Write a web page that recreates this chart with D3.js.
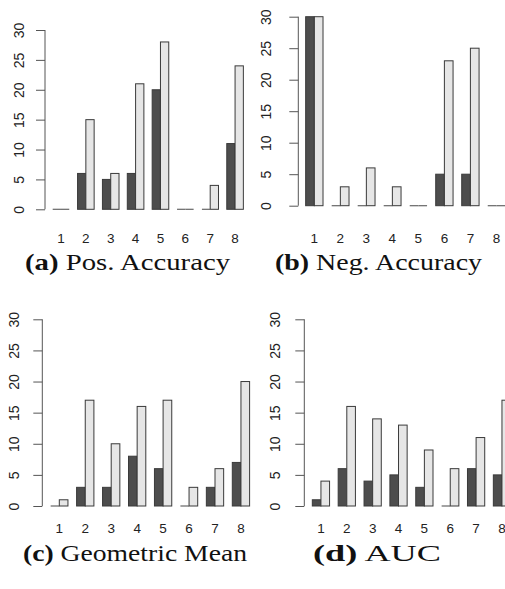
<!DOCTYPE html>
<html>
<head>
<meta charset="utf-8">
<script src="https://cdn.jsdelivr.net/npm/d3@7"></script>
<style>
  body { margin: 0; background: #fff; }
  svg { display: block; }
</style>
</head>
<body>
<div id="chart"></div>
<script>
// counts per method (1..8), dark = first series, light = second series
var methods = ["1", "2", "3", "4", "5", "6", "7", "8"];
var yTicks = [0, 5, 10, 15, 20, 25, 30];

var posAccDark  = [0, 6, 5, 6, 20, 0, 0, 11];
var posAccLight = [0, 15, 6, 21, 28, 0, 4, 24];
var negAccDark  = [30, 0, 0, 0, 0, 5, 5, 0];
var negAccLight = [30, 3, 6, 3, 0, 23, 25, 0];
var gmeanDark   = [0, 3, 3, 8, 6, 0, 3, 7];
var gmeanLight  = [1, 17, 10, 16, 17, 3, 6, 20];
var aucDark     = [1, 6, 4, 5, 3, 0, 6, 5];
var aucLight    = [4, 16, 14, 13, 9, 6, 11, 17];

var captions = [
    { tag: "(a)", text: " Pos. Accuracy" },
    { tag: "(b)", text: " Neg. Accuracy" },
    { tag: "(c)", text: " Geometric Mean" },
    { tag: "(d)", text: " AUC" }
];

// panel placement (pixels): x0 = where bar unit 0 sits, unit = px per bar width
var panels = [
    { dark: posAccDark, light: posAccLight, x0: 44.4, unit: 8.29, axisX: 45, yBottom: 209.3, yTop: 30, labOff: 26, tickY: 238, capY: 262, capX: 25, capW: 205 },
    { dark: negAccDark, light: negAccLight, x0: 297, unit: 8.67, axisX: 298.3, yBottom: 205.7, yTop: 16.7, labOff: 32.6, tickY: 238, capY: 262, capX: 275, capW: 207 },
    { dark: gmeanDark, light: gmeanLight, x0: 42, unit: 8.65, axisX: 42.3, yBottom: 506, yTop: 319.3, labOff: 28, tickY: 528, capY: 553, capX: 23, capW: 224 },
    { dark: aucDark, light: aucLight, x0: 303.7, unit: 8.62, axisX: 304.3, yBottom: 506, yTop: 319.3, labOff: 29.6, tickY: 528, capY: 553, capX: 313, capW: 128 }
];

var width = 505, height = 589;
var svg = d3.select("#chart").append("svg")
    .attr("width", width)
    .attr("height", height);

panels.forEach(function(p, k) {
    var g = svg.append("g");

    var y = d3.scaleLinear().domain([0, 30]).range([p.yBottom, p.yTop]);
    var x = d3.scaleLinear().domain([0, 1]).range([p.x0, p.x0 + p.unit]);

    // R barplot beside=TRUE layout: bar pairs separated by one bar width
    var bars = [];
    methods.forEach(function(m, i) {
        bars.push({ left: 3 * i + 1, v: p.dark[i], fill: "#4d4d4d" });
        bars.push({ left: 3 * i + 2, v: p.light[i], fill: "#e6e6e6" });
    });

    g.selectAll("rect.bar")
        .data(bars.filter(function(d) { return d.v > 0; }))
        .enter()
        .append("rect")
        .attr("class", "bar")
        .attr("x", function(d) { return x(d.left); })
        .attr("width", function(d) { return x(d.left + 1) - x(d.left); })
        .attr("y", function(d) { return y(d.v); })
        .attr("height", function(d) { return y(0) - y(d.v); })
        .style("fill", function(d) { return d.fill; })
        .style("stroke", "#3a3a3a")
        .style("stroke-width", 1);

    // empty bars still show as a flat line on the baseline
    g.selectAll("line.zero")
        .data(bars.filter(function(d) { return d.v == 0; }))
        .enter()
        .append("line")
        .attr("class", "zero")
        .attr("x1", function(d) { return x(d.left); })
        .attr("x2", function(d) { return x(d.left + 1); })
        .attr("y1", y(0))
        .attr("y2", y(0))
        .style("stroke", "#666")
        .style("stroke-width", 1.2);

    // y axis, R style with rotated labels
    var axis = d3.axisLeft(y).tickValues(yTicks).tickSize(9).tickFormat(d3.format("d"));
    var ax = g.append("g")
        .attr("transform", "translate(" + p.axisX + ",0)")
        .call(axis);
    ax.select(".domain")
        .attr("d", "M0," + y(0) + "V" + y(30))
        .style("stroke", "#555");
    ax.selectAll(".tick line").style("stroke", "#555");
    ax.selectAll(".tick text")
        .attr("x", null).attr("dy", null)
        .attr("transform", function(d) { return "translate(" + (-p.labOff) + ",0) rotate(-90)"; })
        .attr("text-anchor", "middle")
        .attr("dominant-baseline", "central")
        .style("font-family", "'Liberation Sans', Arial, sans-serif")
        .style("font-size", "14px")
        .style("fill", "#222");

    // group labels under each pair
    g.selectAll("text.xlab")
        .data(methods)
        .enter()
        .append("text")
        .attr("class", "xlab")
        .attr("x", function(d, i) { return x(3 * i + 2); })
        .attr("y", p.tickY)
        .attr("text-anchor", "middle")
        .attr("dominant-baseline", "central")
        .style("font-family", "'Liberation Sans', Arial, sans-serif")
        .style("font-size", "13.5px")
        .style("fill", "#222")
        .text(function(d) { return d; });

    // subfigure caption
    var cap = svg.append("text")
        .attr("x", p.capX)
        .attr("y", p.capY)
        .attr("dominant-baseline", "central")
        .attr("textLength", p.capW)
        .attr("lengthAdjust", "spacingAndGlyphs")
        .style("font-family", "'Liberation Serif', 'DejaVu Serif', serif")
        .style("font-size", "24px")
        .style("fill", "#111");
    cap.append("tspan").style("font-weight", "bold").text(captions[k].tag);
    cap.append("tspan").text(captions[k].text);
});
</script>
</body>
</html>
